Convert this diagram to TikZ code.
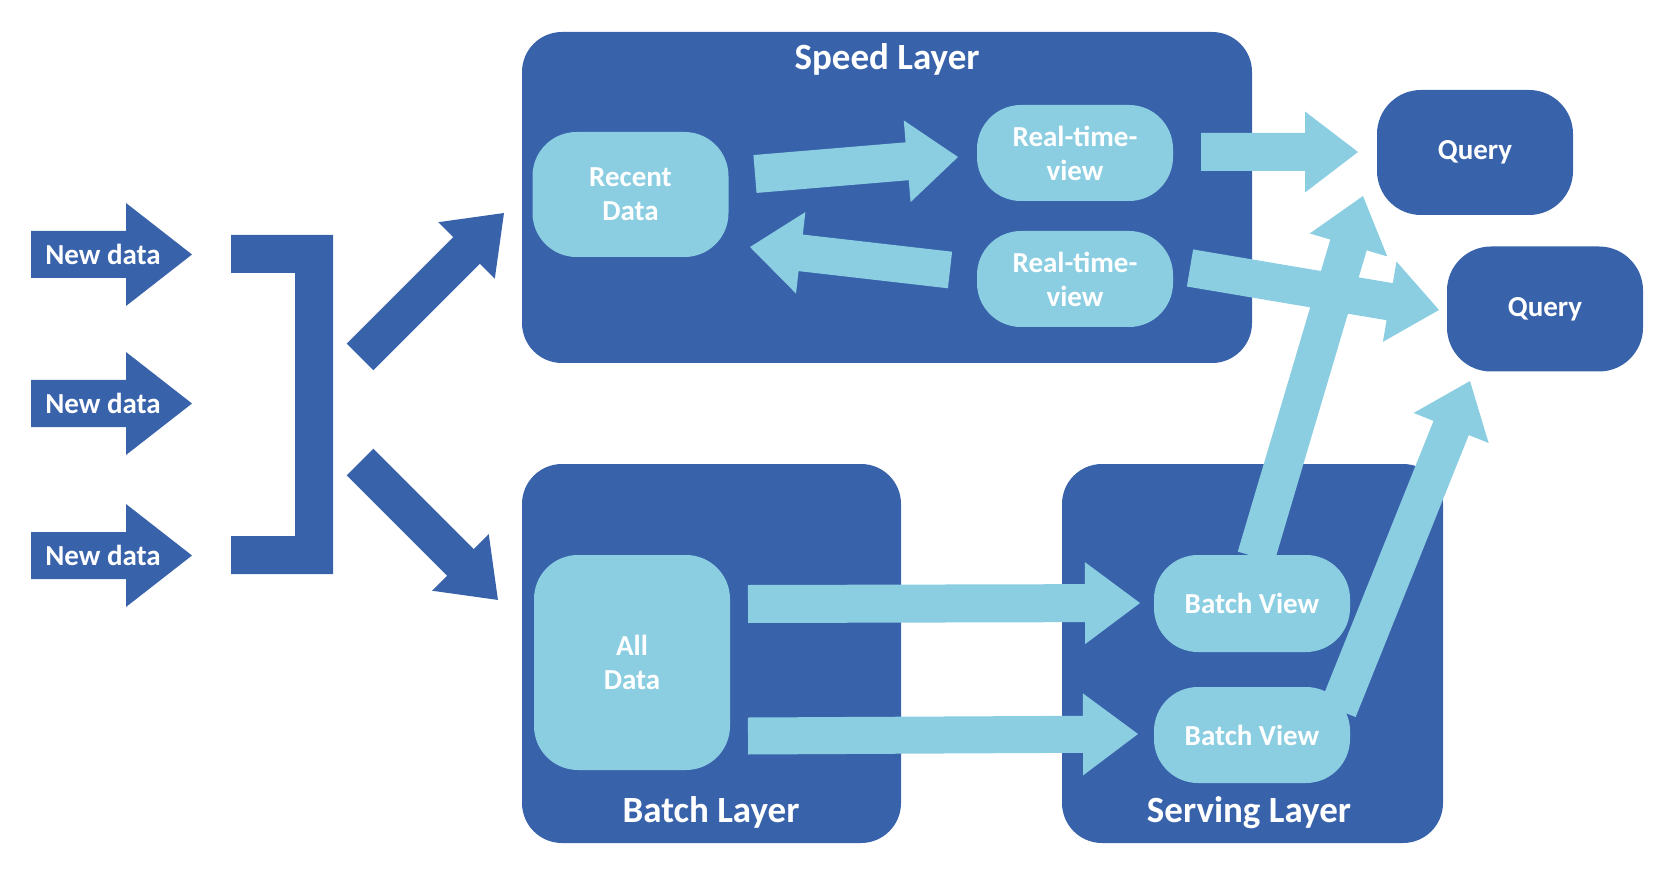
\documentclass[tikz,border=0pt]{standalone}
\usepackage{fontspec}
\setmainfont{Carlito}
\usetikzlibrary{calc}
\definecolor{dkblue}{HTML}{3863AB}
\definecolor{ltblue}{HTML}{8BCEE2}
% block arrow: #1 colour, #2 tail coord, #3 tip coord, #4 shaft half width (pt), #5 head half width (pt), #6 head length (pt)
\newcommand\fatarrow[6]{%
  \path let \p1=(#2), \p2=(#3) in
    \pgfextra{\pgfmathsetmacro\faang{atan2(\y2-\y1,\x2-\x1)}%
      \pgfmathsetmacro\falen{veclen(\x2-\x1,\y2-\y1)}%
      \global\let\faangG\faang\global\let\falenG\falen};
  \fill[#1, shift={(#2)}, rotate=\faangG]
    (0pt,-#4pt) -- ({\falenG pt-#6pt},-#4pt) -- ({\falenG pt-#6pt},-#5pt) -- (\falenG pt,0pt)
    -- ({\falenG pt-#6pt},#5pt) -- ({\falenG pt-#6pt},#4pt) -- (0pt,#4pt) -- cycle;
}
\begin{document}
\begin{tikzpicture}[x=0.5pt,y=-0.5pt,
  every node/.style={text=white, font=\bfseries\fontsize{14.5}{17}\selectfont, inner sep=0pt},
  layerbox/.style={fill=dkblue, rounded corners=20pt},
  lnode/.style={fill=ltblue, rounded corners=22pt, minimum width=98pt, align=center},
  qnode/.style={fill=dkblue, rounded corners=22pt, minimum width=98pt, minimum height=62.5pt},
  title/.style={font=\bfseries\fontsize{18.5}{22}\selectfont, anchor=base}]
\useasboundingbox (0,0) rectangle (1680,871);

% layer boxes
\node[layerbox, minimum width=365pt, minimum height=165.5pt] (speed) at (887,197.5) {};
\node[layerbox, minimum width=189.5pt, minimum height=189.5pt] (batch) at (711.5,653.5) {};
\node[layerbox, minimum width=190.5pt, minimum height=189.5pt] (serving) at (1252.5,653.5) {};
\node[title] (speedT) at (887,70) {Speed Layer};
\node[title] (batchT) at (711,822) {Batch Layer};
\node[title] (servT) at (1249,822) {Serving Layer};

% queries
\node[qnode] (q1) at (1475,152.5) {Query};
\node[qnode] (q2) at (1545,309) {Query};

% input arrows and bracket
\coordinate (nd1s) at (31,254.5);  \coordinate (nd1e) at (192,254.5);
\coordinate (nd2s) at (31,403.5);  \coordinate (nd2e) at (192,403.5);
\coordinate (nd3s) at (31,555.5);  \coordinate (nd3e) at (192,555.5);
\fatarrow{dkblue}{nd1s}{nd1e}{11.75}{25.75}{33}
\fatarrow{dkblue}{nd2s}{nd2e}{11.75}{25.75}{33}
\fatarrow{dkblue}{nd3s}{nd3e}{11.75}{25.75}{33}
\node (nd1) at (103,254.5) {New data};
\node (nd2) at (103,403.5) {New data};
\node (nd3) at (103,555.5) {New data};
\fill[dkblue] (231,235) -- (333,235) -- (333,574) -- (231,574) -- (231,536) -- (295,536) -- (295,273) -- (231,273) -- cycle;

\coordinate (d1s) at (360,357); \coordinate (d1e) at (504,213);
\coordinate (d2s) at (360,462); \coordinate (d2e) at (498,600);
\fatarrow{dkblue}{d1s}{d1e}{9.4}{20}{26.5}
\fatarrow{dkblue}{d2s}{d2e}{9.4}{20}{26.5}

% light nodes
\node[lnode, minimum height=62.5pt] (recent) at (630.5,194.5) {Recent\\Data};
\node[lnode, minimum height=48pt] (rtv1) at (1075,153) {Real-time-\\view};
\node[lnode, minimum height=48pt] (rtv2) at (1075,279) {Real-time-\\view};
\node[lnode, minimum height=107.5pt] (all) at (632,662.5) {All\\Data};
\node[lnode, minimum height=48.5pt] (bv1) at (1252,603.5) {Batch View};
\node[lnode, minimum height=48pt] (bv2) at (1252,735) {Batch View};

% light arrows
\coordinate (a1s) at (755,174);  \coordinate (a1e) at (958,157);
\coordinate (a2s) at (950,270);  \coordinate (a2e) at (750,247);
\coordinate (a3s) at (1201,152); \coordinate (a3e) at (1358,152);
\coordinate (a4s) at (1190,268); \coordinate (a4e) at (1439,310);
\coordinate (a5s) at (748,604);  \coordinate (a5e) at (1140,603);
\coordinate (a6s) at (748,736);  \coordinate (a6e) at (1138,734);
\coordinate (a7s) at (1256,557); \coordinate (a7e) at (1363,196);
\coordinate (a8s) at (1338,710); \coordinate (a8e) at (1470,381);
\fatarrow{ltblue}{a1s}{a1e}{9.5}{20.5}{25.5}
\fatarrow{ltblue}{a2s}{a2e}{9.2}{20.5}{25.5}
\fatarrow{ltblue}{a3s}{a3e}{9.5}{20.25}{26.5}
\fatarrow{ltblue}{a4s}{a4e}{9.4}{20.35}{25}
\fatarrow{ltblue}{a5s}{a5e}{9.5}{20.5}{27.5}
\fatarrow{ltblue}{a6s}{a6e}{9.25}{20.5}{27.5}
\fatarrow{ltblue}{a7s}{a7e}{9.5}{20.2}{25.5}
\fatarrow{ltblue}{a8s}{a8e}{9.5}{20.2}{25.3}
\end{tikzpicture}
\end{document}
